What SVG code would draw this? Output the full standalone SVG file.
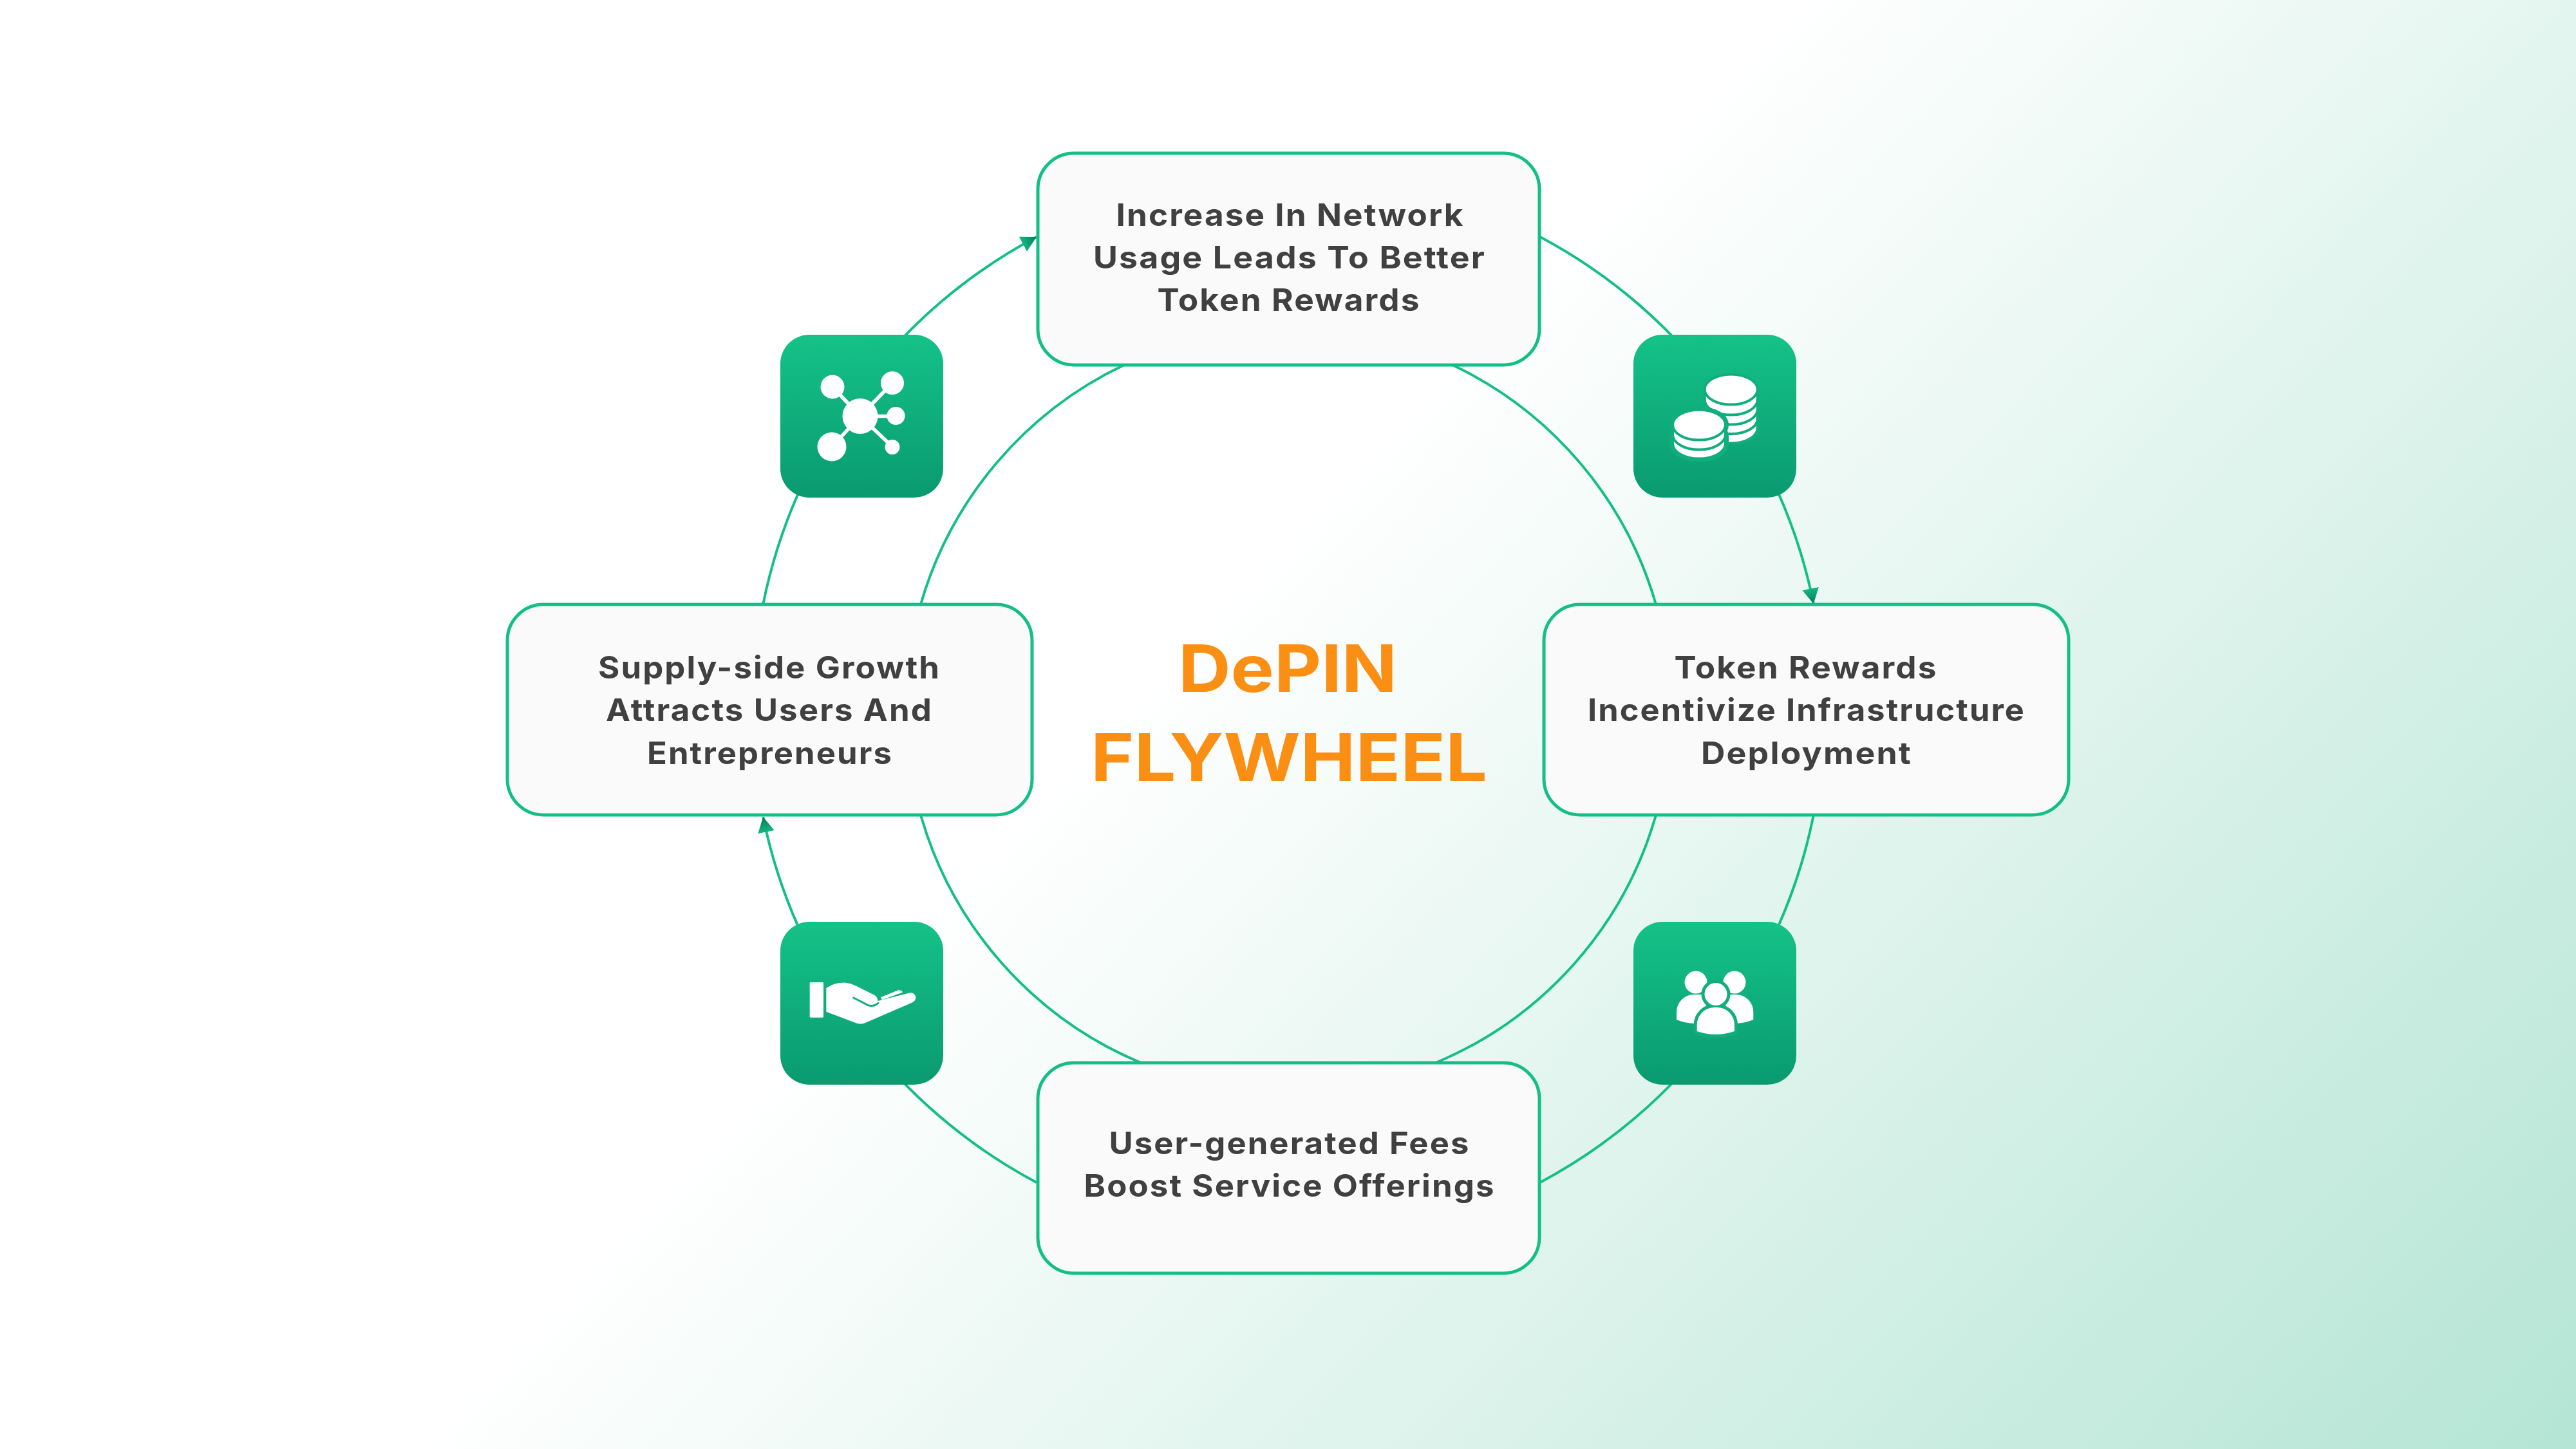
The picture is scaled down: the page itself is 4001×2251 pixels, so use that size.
<svg xmlns="http://www.w3.org/2000/svg" xmlns:xlink="http://www.w3.org/1999/xlink" width="4001" height="2251" viewBox="0 0 4001 2251">
<style>
.card{fill:#fafafa;stroke:#14bf87;stroke-width:5}
.lbl{font-family:"Inter","Liberation Sans",sans-serif;font-weight:750;font-size:48px;fill:#404040;text-anchor:middle;letter-spacing:2px}
.ttl{font-family:"Inter","Liberation Sans",sans-serif;font-weight:750;font-size:102px;fill:#fb8f14;text-anchor:middle}
.arc{fill:none;stroke:#14bf87;stroke-width:4}
.tile{fill:url(#tileG)}
.w{fill:#fff}
.gap{fill:#fff;stroke:#11ae7d;stroke-width:4}
.halo{fill:#11ae7d;stroke:#11ae7d;stroke-width:10}
</style>
<defs>
<linearGradient id="bg" gradientUnits="userSpaceOnUse" x1="1450" y1="1390" x2="3192" y2="3059">
<stop offset="0" stop-color="#ffffff"/><stop offset="1" stop-color="#b5e5d5"/>
</linearGradient>
<linearGradient id="tileG" x1="0" y1="0" x2="0" y2="1">
<stop offset="0" stop-color="#14c287"/><stop offset="1" stop-color="#0a9a70"/>
</linearGradient>
<linearGradient id="headG" x1="0" y1="0" x2="1" y2="0">
<stop offset="0" stop-color="#12b880"/><stop offset="1" stop-color="#067a58"/>
</linearGradient>
<marker id="head" markerUnits="userSpaceOnUse" markerWidth="25" markerHeight="28" refX="24" refY="14" orient="auto" viewBox="0 0 25 28">
<path d="M0 1L24 14L0 27Z" fill="url(#headG)"/>
</marker>
<path id="coin" d="M-41 0A41 23.6 0 0 1 41 0V11A41 23.6 0 0 1 -41 11Z"/>
</defs>
<rect id="background" width="4001" height="2251" fill="url(#bg)"/>
<g id="connectors">
<path class="arc" d="M1745.9 567A594 594 0 0 0 1430 939"/>
<path class="arc" d="M2256.1 567A594 594 0 0 1 2572 939"/>
<path class="arc" d="M2572 1266A594 594 0 0 1 2230 1651"/>
<path class="arc" d="M1772 1651A594 594 0 0 1 1430 1266"/>
<path class="arc" marker-end="url(#head)" d="M1185.2 939A832 832 0 0 1 1610 368"/>
<path class="arc" marker-end="url(#head)" d="M2392 368A832 832 0 0 1 2816.8 938"/>
<path class="arc" d="M2816.8 1266A832 832 0 0 1 2392 1836.9"/>
<path class="arc" marker-end="url(#head)" d="M1610 1836.9A832 832 0 0 1 1185.2 1269"/>
</g>
<g id="node-top">
<rect class="card" x="1612" y="238" width="779" height="329" rx="56"/>
<text class="lbl" x="2004" y="351" textLength="541" lengthAdjust="spacingAndGlyphs">Increase In Network</text>
<text class="lbl" x="2003" y="417" textLength="610" lengthAdjust="spacingAndGlyphs">Usage Leads To Better</text>
<text class="lbl" x="2002" y="483" textLength="409" lengthAdjust="spacingAndGlyphs">Token Rewards</text>
</g>
<g id="node-right">
<rect class="card" x="2398" y="939" width="815" height="327" rx="56"/>
<text class="lbl" x="2805" y="1054" textLength="409" lengthAdjust="spacingAndGlyphs">Token Rewards</text>
<text class="lbl" x="2806" y="1120" textLength="680" lengthAdjust="spacingAndGlyphs">Incentivize Infrastructure</text>
<text class="lbl" x="2806" y="1187" textLength="328" lengthAdjust="spacingAndGlyphs">Deployment</text>
</g>
<g id="node-left">
<rect class="card" x="788" y="939" width="815" height="327" rx="56"/>
<text class="lbl" x="1195" y="1054" textLength="532" lengthAdjust="spacingAndGlyphs">Supply-side Growth</text>
<text class="lbl" x="1195" y="1120" textLength="508" lengthAdjust="spacingAndGlyphs">Attracts Users And</text>
<text class="lbl" x="1196" y="1187" textLength="382" lengthAdjust="spacingAndGlyphs">Entrepreneurs</text>
</g>
<g id="node-bottom">
<rect class="card" x="1612" y="1651" width="779" height="327" rx="56"/>
<text class="lbl" x="2003" y="1793" textLength="561" lengthAdjust="spacingAndGlyphs">User-generated Fees</text>
<text class="lbl" x="2003" y="1859" textLength="639" lengthAdjust="spacingAndGlyphs">Boost Service Offerings</text>
</g>
<g id="icon-network">
<rect class="tile" x="1212" y="520" width="253" height="253" rx="45"/>
<path d="M1336 646.500L1293 601M1336 646.500L1386 595M1336 646.500H1391M1336 646.500L1292 694M1336 646.500L1386 694" stroke="#fff" stroke-width="5.500" fill="none"/>
<circle class="w" cx="1336" cy="646.500" r="27.500"/>
<circle class="w" cx="1293" cy="601" r="18.500"/>
<circle class="w" cx="1386" cy="595" r="18"/>
<circle class="w" cx="1391.500" cy="646" r="14"/>
<circle class="w" cx="1292" cy="694" r="22.500"/>
<circle class="w" cx="1386" cy="694.500" r="11.500"/>
</g>
<g id="icon-coins">
<rect class="tile" x="2537" y="520" width="253" height="253" rx="45"/>
<g class="gap">
<use xlink:href="#coin" href="#coin" x="2688.700" y="654"/>
<use xlink:href="#coin" href="#coin" x="2688.700" y="639.500"/>
<use xlink:href="#coin" href="#coin" x="2688.700" y="625"/>
<use xlink:href="#coin" href="#coin" x="2688.700" y="610"/>
<ellipse cx="2688.700" cy="605" rx="41" ry="23.600"/>
</g>
<g class="halo"><use xlink:href="#coin" href="#coin" x="2639" y="678"/><ellipse cx="2639" cy="660" rx="41" ry="23.600"/></g>
<g class="gap">
<use xlink:href="#coin" href="#coin" x="2639" y="678"/>
<use xlink:href="#coin" href="#coin" x="2639" y="664"/>
<ellipse cx="2639" cy="660" rx="41" ry="23.600"/>
</g>
</g>
<g id="icon-users">
<rect class="tile" x="2537" y="1432" width="253" height="253" rx="45"/>
<circle class="w" cx="2634" cy="1526" r="17.500"/>
<circle class="w" cx="2694" cy="1526" r="17.500"/>
<path class="w" d="M2604 1584V1572A27 27 0 0 1 2631 1545H2650V1592L2631 1590Q2615 1589 2604 1584Z"/>
<path class="w" d="M2723.300 1584V1572A27 27 0 0 0 2696.300 1545H2680V1592L2697 1590Q2712 1589 2723.300 1584Z"/>
<circle class="halo" cx="2665" cy="1544.500" r="17.500"/>
<path class="halo" d="M2635.700 1602V1592A27 27 0 0 1 2662 1565H2668A27 27 0 0 1 2694 1592V1602Q2665 1612 2635.700 1602Z"/>
<circle class="w" cx="2665" cy="1544.500" r="17.500"/>
<path class="w" d="M2635.700 1602V1592A27 27 0 0 1 2662 1565H2668A27 27 0 0 1 2694 1592V1602Q2665 1612 2635.700 1602Z"/>
</g>
<g id="icon-hand">
<rect class="tile" x="1212" y="1432" width="253" height="253" rx="45"/>
<g transform="translate(1130 1230) scale(.3333)">
<rect class="w" x="383" y="888" width="64" height="164" rx="4"/>
<path class="w" d="M460 915Q500 888 550 890Q575 892 600 905L685 948Q700 958 700 975L850 937Q870 935 877 955Q880 972 862 982L640 1078Q618 1086 595 1076L460 1025Z"/>
<path class="w" d="M714 958L795 925Q815 925 815 935L720 970Z"/>
<path d="M587 960L655 995Q680 1003 702 985" fill="none" stroke="#11ae7d" stroke-width="9" stroke-linecap="round"/>
</g>
</g>
<g id="title">
<text class="ttl" x="2000" y="1075" textLength="340" lengthAdjust="spacingAndGlyphs">DePIN</text>
<text class="ttl" x="2002" y="1213" textLength="616" lengthAdjust="spacingAndGlyphs">FLYWHEEL</text>
</g>
</svg>
